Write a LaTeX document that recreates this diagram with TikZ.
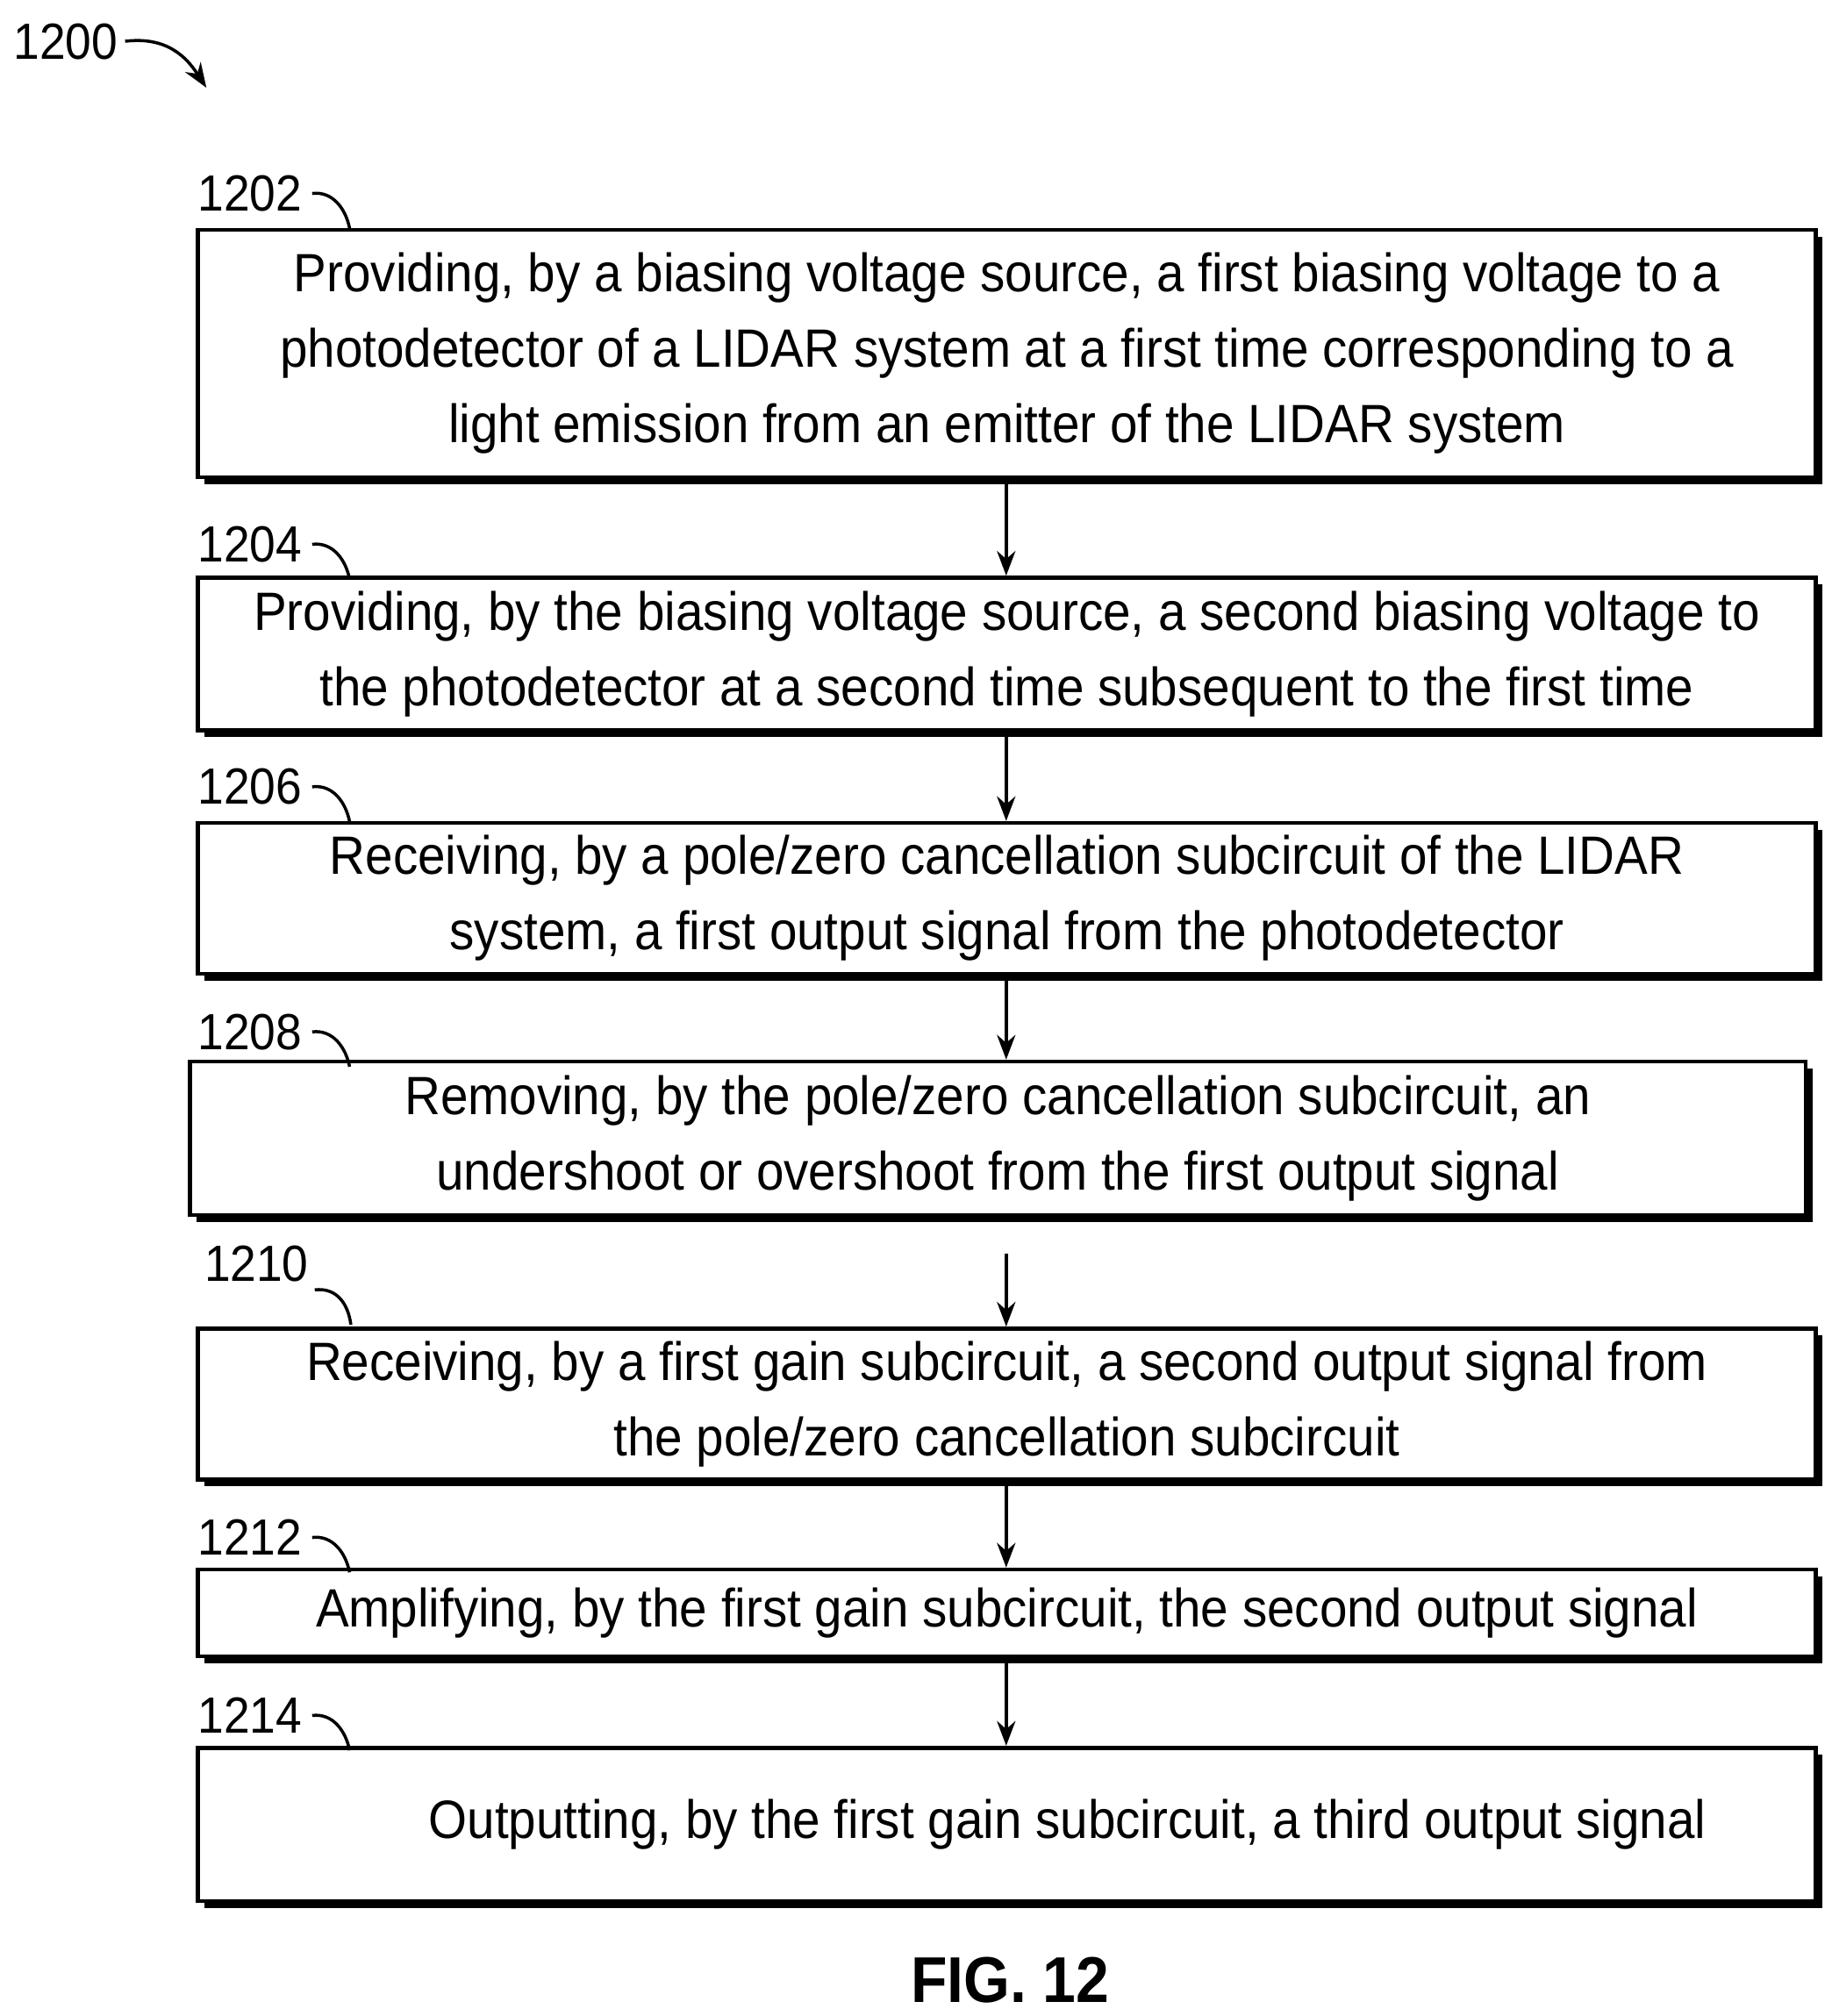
\documentclass[tikz,border=0pt]{standalone}
\usepackage{fontspec}
\setmainfont{Liberation Sans}[FakeStretch=0.92]
\usetikzlibrary{shadows,arrows.meta}
\tikzset{
    stepbox/.style={draw, line width=1.3pt, fill=white, align=center, inner sep=0pt,
        minimum width=18.45cm, font=\fontsize{17.5}{24.5}\selectfont,
        drop shadow={shadow xshift=2.2pt, shadow yshift=-2.2pt, opacity=1, fill=black}},
    reflabel/.style={anchor=west, font=\fontsize{16.5}{20}\selectfont, inner sep=0pt},
    flow/.style={-{Stealth[length=8pt,width=6pt]}, line width=1pt}
}
\begin{document}
\begin{tikzpicture}[x=0.014704cm, y=-0.014704cm]
    \useasboundingbox (0,0) rectangle (1420,1563);

    % Figure number
    \node[reflabel] (n1200) at (10,32) {1200};
    \draw[-{Stealth[length=8pt,width=6pt]}, line width=1pt] (97,32) .. controls (130,28) and (145,45) .. (160,68);

    % Steps
    \node[stepbox, minimum height=2.82cm] (s1202) at (780.5,274) {Providing, by a biasing voltage source, a first biasing voltage to a\\photodetector of a LIDAR system at a first time corresponding to a\\light emission from an emitter of the LIDAR system};
    \node[stepbox, minimum height=1.74cm] (s1204) at (780.5,507) {Providing, by the biasing voltage source, a second biasing voltage to\\the photodetector at a second time subsequent to the first time};
    \node[stepbox, minimum height=1.72cm] (s1206) at (780.5,696.5) {Receiving, by a pole/zero cancellation subcircuit of the LIDAR\\system, a first output signal from the photodetector};
    \node[stepbox, minimum height=1.75cm, minimum width=18.42cm] (s1208) at (773.5,882.5) {Removing, by the pole/zero cancellation subcircuit, an\\undershoot or overshoot from the first output signal};
    \node[stepbox, minimum height=1.72cm] (s1210) at (780.5,1088.5) {Receiving, by a first gain subcircuit, a second output signal from\\the pole/zero cancellation subcircuit};
    \node[stepbox, minimum height=0.99cm] (s1212) at (780.5,1250.5) {Amplifying, by the first gain subcircuit, the second output signal};
    \node[stepbox, minimum height=1.75cm] (s1214) at (780.5,1414.5) {\hspace*{1.38cm}Outputting, by the first gain subcircuit, a third output signal};

    % Reference numerals
    \foreach \n/\y in {1202/150, 1204/422, 1206/610, 1208/800, 1212/1192, 1214/1330} {
        \node[reflabel] (l\n) at (153,\y) {\n};
        \draw[line width=1pt] (242,\y) .. controls (258,\y-2) and (268,\y+12) .. (271,\y+27);
    }
    \node[reflabel] (l1210) at (158,980) {1210};
    \draw[line width=1pt] (244,1000) .. controls (262,998) and (270,1012) .. (272,1027);

    % Connectors
    \draw[flow] (s1202.south -| 780,0) -- (s1204.north -| 780,0);
    \draw[flow] (s1204.south -| 780,0) -- (s1206.north -| 780,0);
    \draw[flow] (s1206.south -| 780,0) -- (s1208.north -| 780,0);
    \draw[flow, shorten <=12pt] (s1208.south -| 780,0) -- (s1210.north -| 780,0);
    \draw[flow] (s1210.south -| 780,0) -- (s1212.north -| 780,0);
    \draw[flow] (s1212.south -| 780,0) -- (s1214.north -| 780,0);

    \node[font=\fontsize{21}{24}\selectfont\bfseries] (fig) at (783,1535) {FIG. 12};
\end{tikzpicture}
\end{document}
